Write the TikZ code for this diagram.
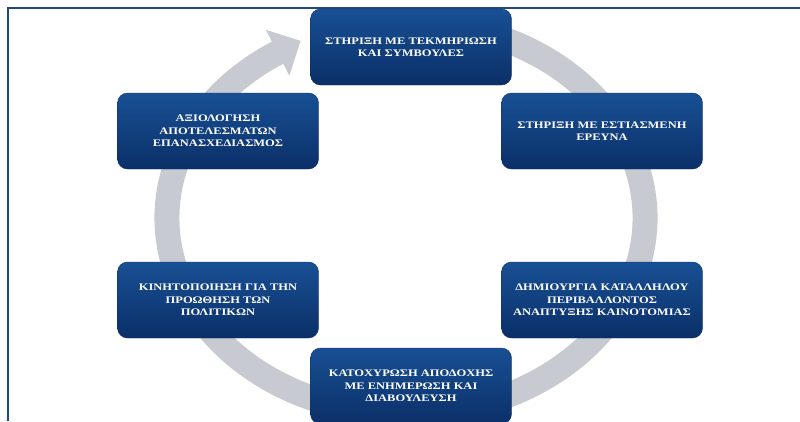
\documentclass[tikz,border=0pt]{standalone}
\usepackage{fontspec}
\setmainfont{Liberation Serif}
\newfontfamily\boxfont{Liberation Serif}[FakeStretch=1.25]
\usetikzlibrary{arrows.meta}
\definecolor{framec}{RGB}{31,73,125}
\definecolor{boxtop}{RGB}{24,80,148}
\definecolor{boxbot}{RGB}{11,47,104}
\definecolor{ringc}{RGB}{200,202,210}
\tikzset{
  stagebox/.style={rounded corners=10pt, minimum width=201pt, minimum height=76pt,
    top color=boxtop, bottom color=boxbot, draw=boxbot, text=white,
    font=\boxfont\bfseries\fontsize{10}{12.5}\selectfont, align=center, inner sep=2pt},
  framestroke/.style={framec, line width=2.2pt},
  ringstroke/.style={ringc, line width=25pt, shorten >=-24pt, -{Triangle[width=50pt,length=26pt]}}
}
\begin{document}
\begin{tikzpicture}[x=1pt,y=-1pt]
\useasboundingbox (0,0) rectangle (800,421);
\coordinate (fb) at (8,421);
\coordinate (fc) at (8,8);
\coordinate (fr) at (800,8);
\draw[framestroke] (fb) -- (fc) -- (fr);
\coordinate (c) at (406,218);
\draw[ringstroke] (c) ++(70:239pt and 196pt) arc[start angle=70, end angle=-238, x radius=239pt, y radius=196pt];
\node[stagebox] (s1) at (411,47) {ΣΤΗΡΙΞΗ ΜΕ ΤΕΚΜΗΡΙΩΣΗ\\ΚΑΙ ΣΥΜΒΟΥΛΕΣ};
\node[stagebox] (s2) at (602,131) {ΣΤΗΡΙΞΗ ΜΕ ΕΣΤΙΑΣΜΕΝΗ\\ΕΡΕΥΝΑ};
\node[stagebox] (s3) at (602,300) {ΔΗΜΙΟΥΡΓΙΑ ΚΑΤΑΛΛΗΛΟΥ\\ΠΕΡΙΒΑΛΛΟΝΤΟΣ\\ΑΝΑΠΤΥΞΗΣ ΚΑΙΝΟΤΟΜΙΑΣ};
\node[stagebox] (s4) at (411,386) {ΚΑΤΟΧΥΡΩΣΗ ΑΠΟΔΟΧΗΣ\\ΜΕ ΕΝΗΜΕΡΩΣΗ ΚΑΙ\\ΔΙΑΒΟΥΛΕΥΣΗ};
\node[stagebox] (s5) at (218,300) {ΚΙΝΗΤΟΠΟΙΗΣΗ ΓΙΑ ΤΗΝ\\ΠΡΟΩΘΗΣΗ ΤΩΝ\\ΠΟΛΙΤΙΚΩΝ};
\node[stagebox] (s6) at (218,131) {ΑΞΙΟΛΟΓΗΣΗ\\ΑΠΟΤΕΛΕΣΜΑΤΩΝ\\ΕΠΑΝΑΣΧΕΔΙΑΣΜΟΣ};
\end{tikzpicture}
\end{document}
